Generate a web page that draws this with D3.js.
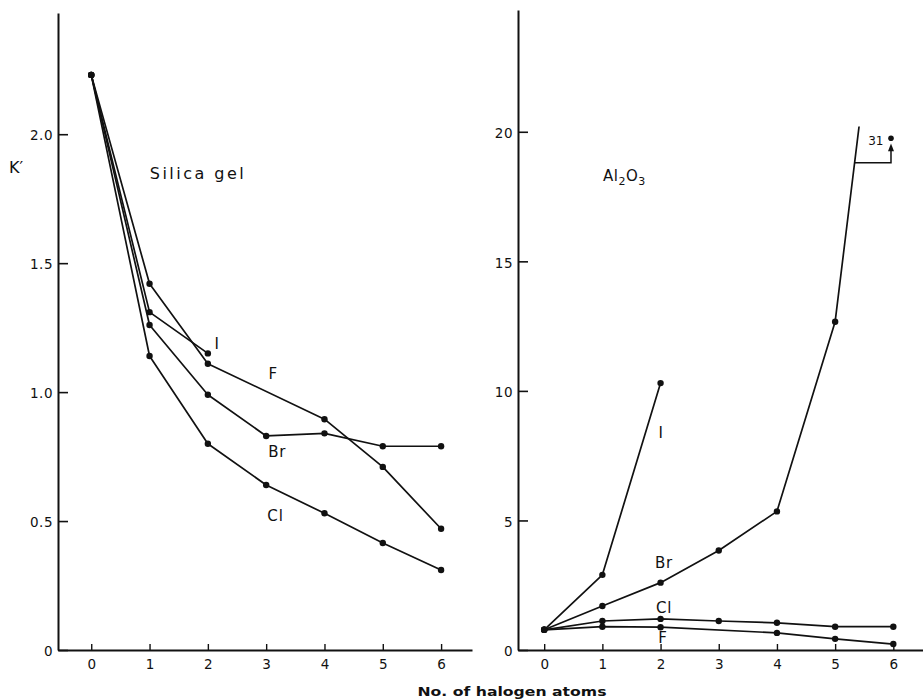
<!DOCTYPE html>
<html><head><meta charset="utf-8">
<script src="https://cdn.jsdelivr.net/npm/d3@7/dist/d3.min.js"></script>
<style>
body{margin:0;background:#fff}
svg{display:block}
text{font-family:"DejaVu Sans",sans-serif;fill:#111}
</style>
</head><body>
<svg id="chart" width="923" height="699"></svg>
<script>
// ---------- DATA ----------
const xTicks = [0, 1, 2, 3, 4, 5, 6];
const silicaYTicks = [0, 0.5, 1.0, 1.5, 2.0];
const silicaYTickLabels = ["0", "0.5", "1.0", "1.5", "2.0"];
const aluminaYTicks = [0, 5, 10, 15, 20];
const aluminaYTickLabels = ["0", "5", "10", "15", "20"];

// Silica gel
const silicaI_n = [0, 1, 2];
const silicaI = [2.23, 1.31, 1.15];
const silicaF_n = [0, 1, 2, 4, 5, 6];
const silicaF = [2.23, 1.42, 1.11, 0.895, 0.71, 0.47];
const silicaBr_n = [0, 1, 2, 3, 4, 5, 6];
const silicaBr = [2.23, 1.26, 0.99, 0.83, 0.84, 0.79, 0.79];
const silicaCl_n = [0, 1, 2, 3, 4, 5, 6];
const silicaCl = [2.23, 1.14, 0.80, 0.64, 0.53, 0.415, 0.31];

// Al2O3
const aluminaI_n = [0, 1, 2];
const aluminaI = [0.78, 2.9, 10.3];
const aluminaBr_n = [0, 1, 2, 3, 4, 5, 6];
const aluminaBr = [0.78, 1.7, 2.6, 3.84, 5.35, 12.67, 31];
const aluminaCl_n = [0, 1, 2, 3, 4, 5, 6];
const aluminaCl = [0.78, 1.12, 1.2, 1.12, 1.05, 0.9, 0.9];
const aluminaF_n = [0, 1, 2, 4, 5, 6];
const aluminaF = [0.78, 0.9, 0.88, 0.66, 0.43, 0.23];

// ---------- LAYOUT ----------
const svg = d3.select("#chart");
const ink = "#111";

const xL = d3.scaleLinear().domain([-0.57, 6.53]).range([58, 472]);
const yL = d3.scaleLinear().domain([0, 2.47]).range([650, 13]);
const xR = d3.scaleLinear().domain([-0.45, 6.51]).range([518, 923]);
const yR = d3.scaleLinear().domain([0, 24.7]).range([650, 10]);
const yRmax = 20.2; // plotted region of the Al2O3 panel before break

function zip(n, v) { return n.map((d, i) => ({ n: d, v: v[i] })); }

function drawAxes(x, y, yTicks, yLabels) {
  const gy = svg.append("g").attr("transform", `translate(${x.range()[0]},0)`)
    .call(d3.axisLeft(y).tickValues(yTicks).tickFormat((d, i) => yLabels[i])
      .tickSizeInner(-10).tickSizeOuter(0).tickPadding(5));
  gy.select(".domain").attr("stroke", ink).attr("stroke-width", 2);
  gy.selectAll(".tick line").attr("stroke", ink).attr("stroke-width", 1.6);
  gy.selectAll(".tick text").attr("font-size", 13.5).attr("font-family", "DejaVu Sans")
    .attr("fill", ink).attr("letter-spacing", 0.5).attr("dy", "0.42em");

  const gx = svg.append("g").attr("transform", `translate(0,${y.range()[0]})`)
    .call(d3.axisBottom(x).tickValues(xTicks).tickFormat(d3.format("d"))
      .tickSizeInner(-6).tickSizeOuter(0).tickPadding(9));
  gx.select(".domain").attr("stroke", ink).attr("stroke-width", 2);
  gx.selectAll(".tick line").attr("stroke", ink).attr("stroke-width", 1.4);
  gx.selectAll(".tick text").attr("font-size", 13.5).attr("font-family", "DejaVu Sans")
    .attr("fill", ink);
}

function drawSeries(g, x, y, data, clipMax) {
  const line = d3.line().x(d => x(d.n)).y(d => y(d.v));
  g.append("path").datum(data).attr("d", line)
    .attr("fill", "none").attr("stroke", ink).attr("stroke-width", 1.7)
    .attr("stroke-linejoin", "round");
  g.selectAll(null).data(data.filter(d => clipMax === undefined || d.v <= clipMax))
    .enter().append("circle")
    .attr("cx", d => x(d.n)).attr("cy", d => y(d.v)).attr("r", 3.2).attr("fill", ink);
}

drawAxes(xL, yL, silicaYTicks, silicaYTickLabels);
drawAxes(xR, yR, aluminaYTicks, aluminaYTickLabels);

// Silica gel panel
const gL = svg.append("g");
drawSeries(gL, xL, yL, zip(silicaI_n, silicaI));
drawSeries(gL, xL, yL, zip(silicaF_n, silicaF));
drawSeries(gL, xL, yL, zip(silicaBr_n, silicaBr));
drawSeries(gL, xL, yL, zip(silicaCl_n, silicaCl));

// Al2O3 panel (clipped at the top)
svg.append("clipPath").attr("id", "clipR").append("rect")
  .attr("x", xR.range()[0]).attr("y", yR(yRmax))
  .attr("width", xR.range()[1] - xR.range()[0]).attr("height", yR(0) - yR(yRmax) + 10);
const gR = svg.append("g").attr("clip-path", "url(#clipR)");
drawSeries(gR, xR, yR, zip(aluminaI_n, aluminaI));
drawSeries(gR, xR, yR, zip(aluminaBr_n, aluminaBr), yRmax);
drawSeries(gR, xR, yR, zip(aluminaCl_n, aluminaCl));
drawSeries(gR, xR, yR, zip(aluminaF_n, aluminaF));

// Off-scale annotation for Br at n = 6
const brLast = aluminaBr[aluminaBr.length - 1];
const brPrev = aluminaBr[aluminaBr.length - 2];
const bracketV = 18.8;
const crossN = 5 + (bracketV - brPrev) / (brLast - brPrev);
const aN = 5.96;
const ann = svg.append("g");
ann.append("path")
  .attr("d", `M${xR(crossN)},${yR(bracketV)}H${xR(aN)}V${yR(19.3)}`)
  .attr("fill", "none").attr("stroke", ink).attr("stroke-width", 1.5);
ann.append("path")
  .attr("d", `M${xR(aN) - 3},${yR(19.25)}L${xR(aN)},${yR(19.55)}L${xR(aN) + 3},${yR(19.25)}Z`)
  .attr("fill", ink);
ann.append("circle").attr("cx", xR(aN)).attr("cy", yR(19.75)).attr("r", 2.8).attr("fill", ink);
ann.append("text").attr("x", xR(5.83)).attr("y", yR(19.65)).attr("dy", "0.35em")
  .attr("text-anchor", "end").attr("font-size", 12).text(String(brLast));

// Series labels (data-coordinate anchors)
function label(x, y, n, v, txt, size) {
  return svg.append("text").attr("x", x(n)).attr("y", y(v)).attr("dy", "0.36em")
    .attr("text-anchor", "middle").attr("font-size", size || 15).attr("letter-spacing", 0.8)
    .text(txt);
}
label(xL, yL, 2.16, 1.19, "I");
label(xL, yL, 3.12, 1.07, "F");
label(xL, yL, 3.19, 0.77, "Br");
label(xL, yL, 3.16, 0.52, "Cl");
label(xR, yR, 2.01, 8.38, "I");
label(xR, yR, 2.06, 3.36, "Br");
label(xR, yR, 2.06, 1.62, "Cl");
label(xR, yR, 2.04, 0.46, "F");

// Panel titles
svg.append("text").attr("x", xL(1.81)).attr("y", yL(1.85)).attr("dy", "0.36em")
  .attr("text-anchor", "middle").attr("font-size", 16)
  .attr("textLength", 94).attr("lengthAdjust", "spacing")
  .text("Silica gel");
const al = svg.append("text").attr("x", xR(1.38)).attr("y", yR(18.3)).attr("dy", "0.36em")
  .attr("text-anchor", "middle").attr("font-size", 15).attr("letter-spacing", 0.5);
al.append("tspan").text("Al");
al.append("tspan").attr("font-size", 11).attr("dy", 4).text("2");
al.append("tspan").attr("dy", -4).text("O");
al.append("tspan").attr("font-size", 11).attr("dy", 4).text("3");

// Axis titles
svg.append("text").attr("x", 16).attr("y", 173).attr("text-anchor", "middle")
  .attr("font-size", 16).text("K′");
svg.append("text").attr("x", 512).attr("y", 696).attr("text-anchor", "middle")
  .attr("font-size", 12).attr("font-weight", "bold").attr("font-family", "DejaVu Serif")
  .attr("textLength", 189).attr("lengthAdjust", "spacingAndGlyphs")
  .text("No. of halogen atoms");
</script>
</body></html>
